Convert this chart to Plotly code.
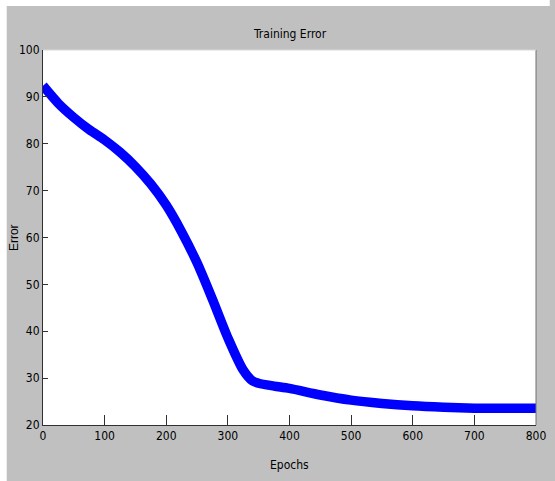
import plotly.graph_objects as go

epochs = [0, 25, 50, 75, 100, 125, 150, 175, 200, 225, 250, 275, 300, 325, 340, 350,
          375, 400, 450, 500, 550, 600, 650, 700, 750, 800]
error = [92.4, 88.6, 85.6, 83.0, 80.8, 78.2, 75.1, 71.4, 66.9, 61.2, 54.6, 46.8, 38.6,
         31.7, 29.4, 28.9, 28.3, 27.8, 26.4, 25.3, 24.6, 24.1, 23.8, 23.6, 23.55, 23.55]

x_ticks = [0, 100, 200, 300, 400, 500, 600, 700, 800]
y_ticks = [20, 30, 40, 50, 60, 70, 80, 90, 100]

W, H = 555, 481
L, R, T, B = 43, 9, 50, 56
font = "DejaVu Sans Condensed, Liberation Sans Narrow, Arial Narrow, sans-serif"

fig = go.Figure()
fig.add_trace(go.Scatter(x=epochs, y=error, mode="lines",
                         line=dict(color="#0000ff", width=9.5, shape="spline", smoothing=0.8),
                         showlegend=False, hoverinfo="skip"))

PW, PH = W - L - R, H - T - B

fig.update_layout(
    width=W, height=H,
    margin=dict(l=L, r=R, t=T, b=B, pad=0),
    paper_bgcolor="#c0c0c0",
    plot_bgcolor="#ffffff",
    font=dict(family=font, size=12, color="#000000"),
    showlegend=False,
    hovermode=False,
    xaxis=dict(range=[0, 800], tickvals=x_ticks, ticks="inside", ticklen=10, tickcolor="#303030",
               showline=True, linecolor="#303030", linewidth=1, showgrid=False, zeroline=False,
               ticklabeloverflow="allow",
               tickfont=dict(family=font, size=12, color="#000000")),
    yaxis=dict(range=[20, 100], tickvals=y_ticks, ticks="inside", ticklen=5, tickcolor="#303030",
               showline=True, linecolor="#303030", linewidth=1, showgrid=False, zeroline=False,
               ticklabeloverflow="allow",
               tickfont=dict(family=font, size=12, color="#000000")),
    shapes=[
        dict(type="rect", xref="paper", yref="paper", x0=-L / PW - 0.01, x1=(W - L) / PW + 0.01,
             y0=1 + (T - 6) / PH, y1=1 + T / PH + 0.01,
             fillcolor="#ffffff", line=dict(width=0), layer="above"),
        dict(type="rect", xref="paper", yref="paper", x0=-L / PW - 0.01, x1=-(L - 6) / PW,
             y0=-B / PH - 0.01, y1=1 + T / PH + 0.01,
             fillcolor="#ffffff", line=dict(width=0), layer="above"),
        dict(type="line", xref="paper", yref="paper", x0=1, x1=1, y0=0, y1=1,
             line=dict(color="#707070", width=1), layer="above"),
        dict(type="line", xref="paper", yref="paper", x0=0, x1=1, y0=1, y1=1,
             line=dict(color="#d8d8d8", width=1), layer="above"),
    ],
    annotations=[
        dict(text="Training Error", xref="paper", yref="paper", x=0.5, y=1 + (T - 34) / PH,
             xanchor="center", yanchor="middle", showarrow=False, font=dict(family=font, size=12)),
        dict(text="Epochs", xref="paper", yref="paper", x=0.5, y=-(465 - (H - B)) / PH,
             xanchor="center", yanchor="middle", showarrow=False, font=dict(family=font, size=12)),
        dict(text="Error", xref="paper", yref="paper", x=-(L - 13) / PW, y=0.5,
             xanchor="center", yanchor="middle", showarrow=False, textangle=-90,
             font=dict(family="Liberation Sans, Arial, sans-serif", size=12)),
    ],
)

fig.write_html("out.html", config={"displayModeBar": False, "staticPlot": True},
               post_script="document.body.style.margin='0';document.body.style.padding='0';"
                           "document.body.style.overflow='hidden';")
